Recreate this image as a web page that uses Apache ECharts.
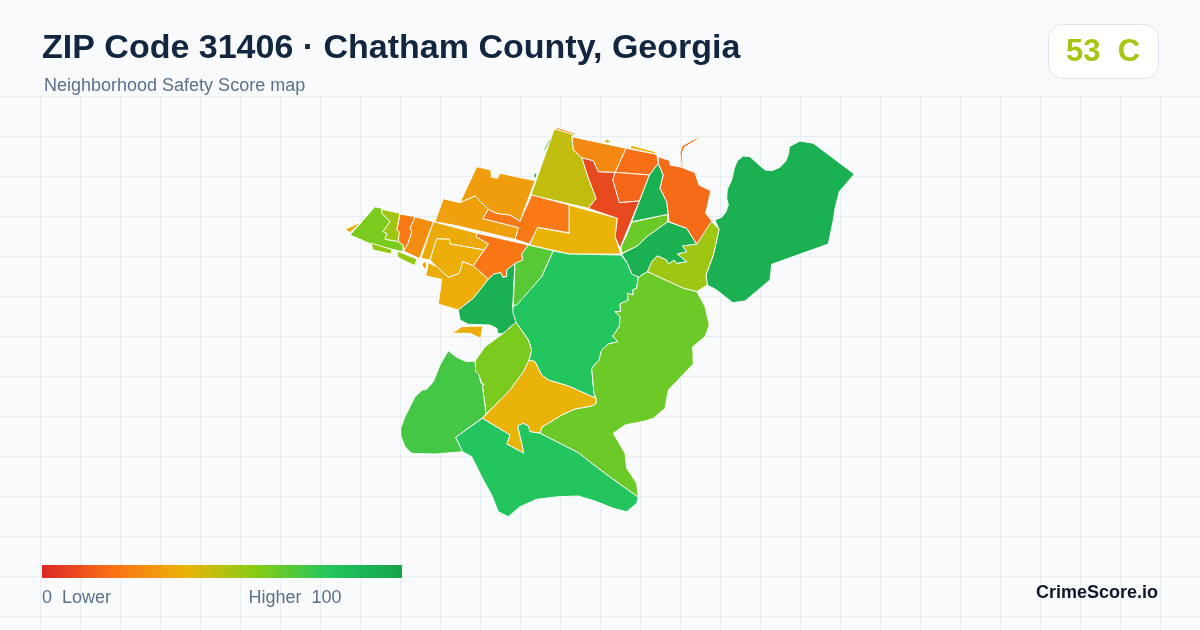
<!DOCTYPE html>
<html>
<head>
<meta charset="utf-8">
<title>ZIP Code 31406</title>
<style>
    html, body { margin: 0; padding: 0; background: #f8fafc; }
    #chart { width: 1200px; height: 630px; }
</style>
<script src="https://cdn.jsdelivr.net/npm/echarts@6/dist/echarts.min.js"></script>
</head>
<body>
<div id="chart"></div>
<script>
var titleText = 'ZIP Code 31406 \u00b7 Chatham County, Georgia';
var subtitleText = 'Neighborhood Safety Score map';
var badgeText = '53  C';
var brandText = 'CrimeScore.io';
var legendLowText = '0  Lower';
var legendHighText = 'Higher  100';
var legendColors = ['#dc2626', '#f97316', '#eab308', '#84cc16', '#22c55e', '#16a34a'];

// one score per neighborhood
var districtIds = [
    'east', 'eastOlive', 'midGreen', 'midLime', 'topGreen', 'eastOrange', 'eastRiver', 'topRed', 'midRed', 'red',
    'topOrange', 'olive', 'yellow', 'westOrange', 'northAmber', 'amberBand', 'centerOrange', 'hook', 'amberWest', 'amberInner',
    'amberSouth', 'amberSpeck', 'stripeA', 'stripeB', 'westOlive', 'westLime', 'tip', 'shoalA', 'shoalB', 'island',
    'swGreen', 'creekGreen', 'mainGreen', 'bigLime', 'southYellow', 'southLime', 'westGreen', 'southGreen',
    'fringeOlive', 'fringeYellow', 'fringeOrange', 'speckA', 'speckB'
];
var districtScores = [
    92, 55, 92, 65, 92, 18, 18, 19, 17, 9,
    27, 48, 40, 22, 33, 34, 21, 21, 37, 38,
    38, 34, 28, 22, 55, 62, 38, 57, 57, 38,
    92, 69, 80, 65, 40, 62, 73, 80,
    48, 40, 27, 92, 92
];

// outlines in map units, x y x y ...
var districtRings = [
    [715,220, 721.7,217.3, 726,211.7, 728.3,205, 726.7,198.3, 727.3,189.3, 731.7,180, 734.3,168.3, 737.3,160.7, 743.3,156, 750,156.7, 756.7,162.7, 765,170, 771.7,170.7, 780,167.3, 786,160.7, 788.7,153.3, 789.3,146.7, 800,141, 813.3,143.3, 854.3,174, 839.3,191.7, 835,208.3, 833.3,220, 828.3,244, 771.7,264.3, 770,280, 745,301, 732.7,302.7, 716.7,290, 707.3,285, 706,275, 713.3,255, 716.7,240, 719,229.3],
    [711.7,221.7, 716.7,226.7, 719,229.3, 716.7,240, 713.3,255, 706,275, 707.3,285, 696.7,291.7, 683.3,288.3, 647.3,271.7, 651.7,261.7, 657.3,255.7, 666.7,260, 668.3,264, 674,260, 676.7,263.3, 686.7,261.7, 677.3,254, 686.7,251.7, 682.3,246, 696.7,244, 702.7,235, 706,225],
    [621.7,254, 637.3,246, 646.7,236.7, 667.7,221.7, 686.7,228.3, 696.7,244, 682.3,246, 686.7,251.7, 677.3,254, 686.7,261.7, 676.7,263.3, 674,260, 668.3,264, 666.7,260, 657.3,255.7, 651.7,261.7, 647.3,271.7, 638.3,277.3, 631.7,274, 627.3,263.3],
    [631.7,222.3, 667.7,214.3, 667.7,221.7, 646.7,236.7, 637.3,246, 621.7,253.3, 621,246.7, 626.7,235],
    [658.3,163.3, 663.3,175, 660,188.3, 666.7,201.7, 668.3,214.3, 631.7,221.7, 649.3,175],
    [658.3,156.7, 670,160.7, 670,165, 681.7,167.3, 695,172.7, 699,185, 710.7,190.7, 705.7,213.3, 711.7,221, 702.7,235, 696.7,244, 686.7,228.3, 669,221.7, 668.3,214.3, 666.7,201.7, 660,188.3, 663.3,175, 658.3,163.3],
    [681.7,167.3, 680,153, 682,146, 693,140, 703,134.5, 703.5,135.5, 694,141.5, 684,147.5, 682,154, 683,167.3],
    [626,148.3, 656.7,154.3, 658.3,163.3, 649.3,175, 615,172.3],
    [615,172.3, 649.3,175, 639.3,201, 619.3,202.7, 612.7,180],
    [581.7,157.7, 593.3,160.7, 598.3,171.7, 615,172.3, 612.7,180, 619.3,202.7, 639.3,201, 620,248, 615,236.7, 617.3,218.3, 588.3,208.3, 596,198.3, 588.3,178.3],
    [571.7,136.7, 626,148.3, 615,172.3, 598.3,171.7, 593.3,160.7, 581.7,157.7, 573.3,150],
    [554.3,129, 575,134, 571.7,136.7, 573.3,150, 581.7,157.7, 588.3,178.3, 596,198.3, 588.3,208.3, 531,195],
    [569,205, 617.3,218.3, 615,236.7, 621,254, 569,254, 530,245, 536.7,227.3, 569.3,233.3],
    [531.7,195, 569,205, 569,232.7, 537.7,227.3, 529.3,244, 515,239.3, 518.3,227.7, 482.7,218.7, 488.3,209.3, 496.7,213.3, 510,215, 520,221],
    [476.7,166.7, 490.7,170, 491.7,177.3, 497.3,178.3, 500,173.3, 535,180.7, 520,221, 510,215, 496.7,213.3, 488.3,209.3, 475,196, 460,202.7],
    [443.3,198.7, 460,202.7, 475,196, 488.3,209.3, 482.7,218.7, 518.3,227.7, 515,239.3, 458,226, 435,221.7],
    [477.3,233.3, 528.3,245, 521.7,254, 522.7,260, 506.7,270, 506.7,276.7, 502.7,277.3, 501,272.7, 494,274, 488.3,279.3, 473.3,265.7, 488.3,244, 476,236.7],
    [491.7,281.7, 495,274, 500,275, 496,278.3, 498.3,284, 495,286],
    [433.3,221.7, 477.3,233.3, 476,236.7, 488.3,244, 484,250, 450,244, 449.3,239.3, 436.7,238.7, 430,260, 421,258.3],
    [436.7,238.7, 449.3,239.3, 450,244, 484,250, 473.3,265.7, 462.7,261.7, 459.3,273.3, 448.3,277.3, 436.7,266.7, 430,260],
    [428.3,262.7, 436.7,266.7, 448.3,277.3, 459.3,273.3, 462.7,261.7, 473.3,265.7, 488.3,279.3, 473.3,298.3, 458.3,310, 438.3,304, 441.7,279.3, 425.7,276],
    [421.7,264, 426,261, 426.5,268, 424,268.5],
    [415,216.7, 433.3,221.7, 419.5,258.5, 403.5,251, 408,243, 411.7,231.7, 410,228.3],
    [400,214, 415,216.7, 410,228.3, 411.7,231.7, 408,243, 403.5,251, 403,245, 398,241.7, 399,232, 396.7,230],
    [381.7,209.3, 400,213.3, 396.7,230, 399.3,231.7, 398.3,241.7, 385,239.3, 386.7,233.3, 382.7,231.7, 390,221.7, 381.7,213.3],
    [375,206.7, 381.7,208.3, 381.7,213.3, 390,221.7, 382.7,231.7, 386.7,233.3, 385,239.3, 398.3,241.7, 403.3,245, 402.7,251.7, 373.3,245, 350,235, 361.7,221.7],
    [345,229.3, 361.7,221.7, 350,232.7],
    [371,243, 392,249.5, 391,254, 373,250],
    [397,251, 417,259, 414.5,265.5, 398,257.5],
    [452.3,333.3, 461.7,326.7, 482.7,326, 480.7,338.3, 470,333.3],
    [458.3,310, 473.3,298.3, 488.3,279.3, 494,274, 501,272.7, 502.7,277.3, 506.7,276.7, 506.7,270, 515,263.3, 512.7,306.7, 516,322.3, 503.3,333.3, 498.3,334, 496.7,328.3, 490,325, 468.3,324.3, 460,320],
    [528.3,245, 553.3,250.7, 541.7,276.7, 516.7,306, 513.3,305, 515,263.3, 522.7,260, 521.7,254],
    [553.3,251, 569,254, 621,255, 627.3,263.3, 631.7,274, 638.3,277.3, 636.7,288.3, 632.7,290, 633.3,295, 627.3,293.3, 628.3,300, 620,304, 620.7,311.7, 615,311.7, 620,316.7, 619.3,326.7, 612.7,336, 617.7,341.7, 608.3,344, 601.7,350, 599,360, 591.7,368.3, 594,393.3, 596,398.3, 568.3,386, 548.3,380, 541.7,375, 535,361.7, 529,360, 531.7,350, 528.3,340, 516,322.3, 512.7,311.7, 513.3,306, 516.7,305, 541.7,276.7],
    [638.3,277.3, 647.3,271.7, 683.3,288.3, 696.7,291.7, 701,299, 705,306.7, 709.3,325, 705,336.7, 692.7,346.7, 693.3,364, 668.3,390, 665,408.3, 653.3,418.3, 645,421, 625,425, 613.3,433.3, 625,453.3, 626.7,468.3, 636.7,483.3, 638.3,497.3, 611.7,478.3, 591.7,463.3, 578.3,452.7, 540,433.3, 541.7,427.3, 561.7,415, 575,409, 591.7,406, 596,403.3, 596,398.3, 594,393.3, 591.7,368.3, 599,360, 601.7,350, 608.3,344, 617.7,341.7, 612.7,336, 619.3,326.7, 620,316.7, 615,311.7, 620.7,311.7, 620,304, 628.3,300, 627.3,293.3, 633.3,295, 632.7,290, 636.7,288.3],
    [529,360, 535,361.7, 541.7,375, 548.3,380, 568.3,386, 596,398.3, 596,403.3, 591.7,406, 575,409, 561.7,415, 541.7,427.3, 540,433.3, 530,431.7, 528.3,426, 523.3,423.3, 517.7,426, 524,453.3, 506.7,444, 510,435, 482.3,418.3, 510,390, 523.3,371.7],
    [516,322.3, 528.3,340, 531.7,350, 529,360, 523.3,371.7, 510,390, 486,414, 482.3,385, 479,375, 475.7,371.7, 475,361, 485,346.7, 503.3,333.3],
    [448.3,350.7, 456.7,357.3, 466.7,361.7, 475,361, 475.7,371.7, 479,375, 481,383.3, 484.3,384.3, 482.3,385, 486,414, 481.7,418.3, 455.7,437.3, 462.7,451.7, 435,454, 411.7,453.3, 405,446.7, 401,436.7, 400.7,428.3, 405,416.7, 415,396.7, 422.3,390, 426.7,389.3, 433.3,381.7, 440,365],
    [482.3,418.3, 510,435, 506.7,444, 524,453.3, 517.7,426, 523.3,423.3, 528.3,426, 530,431.7, 540,433.3, 578.3,452.7, 591.7,463.3, 611.7,478.3, 638.3,497.3, 636.7,503.3, 626.7,511.7, 613.3,508.3, 595,501, 578.3,496, 558.3,496.7, 536.7,499.3, 520,506.7, 508.3,516.7, 498.3,511.7, 491.7,495, 483.3,480, 471.7,456.7, 462.7,451.7, 455.7,437.3],
    [604,141.7, 607.3,139, 611.7,142.7, 604,142.7],
    [630,148.3, 631.7,145.3, 655,151.7, 656.7,154.3],
    [556.7,127.3, 575,133.3, 575,135, 556,129.3],
    [534,173.3, 537,173, 536,178, 534,178],
    [543.3,150.7, 550,138.3, 550.7,140, 545,150.7]
];

function buildGeoJson() {
    var features = [];
    for (var i = 0; i < districtIds.length; i++) {
        var flat = districtRings[i];
        var ring = [];
        for (var j = 0; j < flat.length; j += 2) {
            ring.push([flat[j], flat[j + 1]]);
        }
        ring.push(ring[0]);
        features.push({
            type: 'Feature',
            properties: { name: districtIds[i] },
            geometry: { type: 'Polygon', coordinates: [ring] }
        });
    }
    return { type: 'FeatureCollection', features: features };
}

function buildSeriesData() {
    var data = [];
    for (var i = 0; i < districtIds.length; i++) {
        data.push({ name: districtIds[i], value: districtScores[i] });
    }
    return data;
}

function buildGridLines() {
    var lines = [];
    var lineStyle = { stroke: '#e7eef3', lineWidth: 1 };
    var x, y;
    for (x = 40; x < 1200; x += 40) {
        lines.push({ type: 'line', silent: true, shape: { x1: x + 0.5, y1: 96, x2: x + 0.5, y2: 630 }, style: lineStyle });
    }
    for (y = 96; y < 630; y += 40) {
        lines.push({ type: 'line', silent: true, shape: { x1: 0, y1: y + 0.5, x2: 1200, y2: y + 0.5 }, style: lineStyle });
    }
    return lines;
}

function legendGradient() {
    var stops = [];
    for (var i = 0; i < legendColors.length; i++) {
        stops.push({ offset: i / (legendColors.length - 1), color: legendColors[i] });
    }
    return new echarts.graphic.LinearGradient(0, 0, 1, 0, stops);
}

function textItem(text, x, y, font, fill, align) {
    return {
        type: 'text',
        silent: true,
        z: 10,
        x: x,
        y: y,
        style: { text: text, font: font, fill: fill, align: align || 'left', verticalAlign: 'middle' }
    };
}

echarts.registerMap('zip31406', buildGeoJson());

var chart = echarts.init(document.getElementById('chart'), null, { renderer: 'canvas' });
var fontFamily = '"Liberation Sans", Arial, sans-serif';

chart.setOption({
    animation: false,
    backgroundColor: '#f8fafc',
    // the built-in bar has rounded ends, so the legend bar is a plain rect below
    visualMap: {
        type: 'continuous',
        show: false,
        seriesIndex: 0,
        min: 0,
        max: 100,
        inRange: { color: legendColors }
    },
    series: [{
        type: 'map',
        map: 'zip31406',
        silent: true,
        selectedMode: false,
        roam: false,
        projection: {
            project: function (point) { return [point[0], point[1]]; },
            unproject: function (point) { return [point[0], point[1]]; }
        },
        left: 345,
        top: 127.3,
        width: 509.3,
        height: 389.4,
        label: { show: false },
        itemStyle: { borderColor: '#ffffff', borderWidth: 0.9 },
        data: buildSeriesData()
    }],
    graphic: {
        elements: buildGridLines().concat([
            textItem(titleText, 42, 49, 'bold 34px ' + fontFamily, '#12263f'),
            textItem(subtitleText, 44, 86, '18px ' + fontFamily, '#5b7089'),
            {
                type: 'rect',
                silent: true,
                z: 9,
                shape: { x: 1048.5, y: 24.5, width: 110, height: 54, r: 14 },
                style: { fill: '#ffffff', stroke: '#dfe5ee', lineWidth: 1 }
            },
            textItem(badgeText, 1066, 52, 'bold 31px ' + fontFamily, '#a8c511'),
            {
                type: 'rect',
                silent: true,
                z: 9,
                shape: { x: 42, y: 565, width: 360, height: 13 },
                style: { fill: legendGradient() }
            },
            textItem(legendLowText, 42, 598, '18px ' + fontFamily, '#5b7089'),
            textItem(legendHighText, 341.5, 598, '18px ' + fontFamily, '#5b7089', 'right'),
            textItem(brandText, 1158, 593, 'bold 18px ' + fontFamily, '#0f172a', 'right')
        ])
    }
});
</script>
</body>
</html>
